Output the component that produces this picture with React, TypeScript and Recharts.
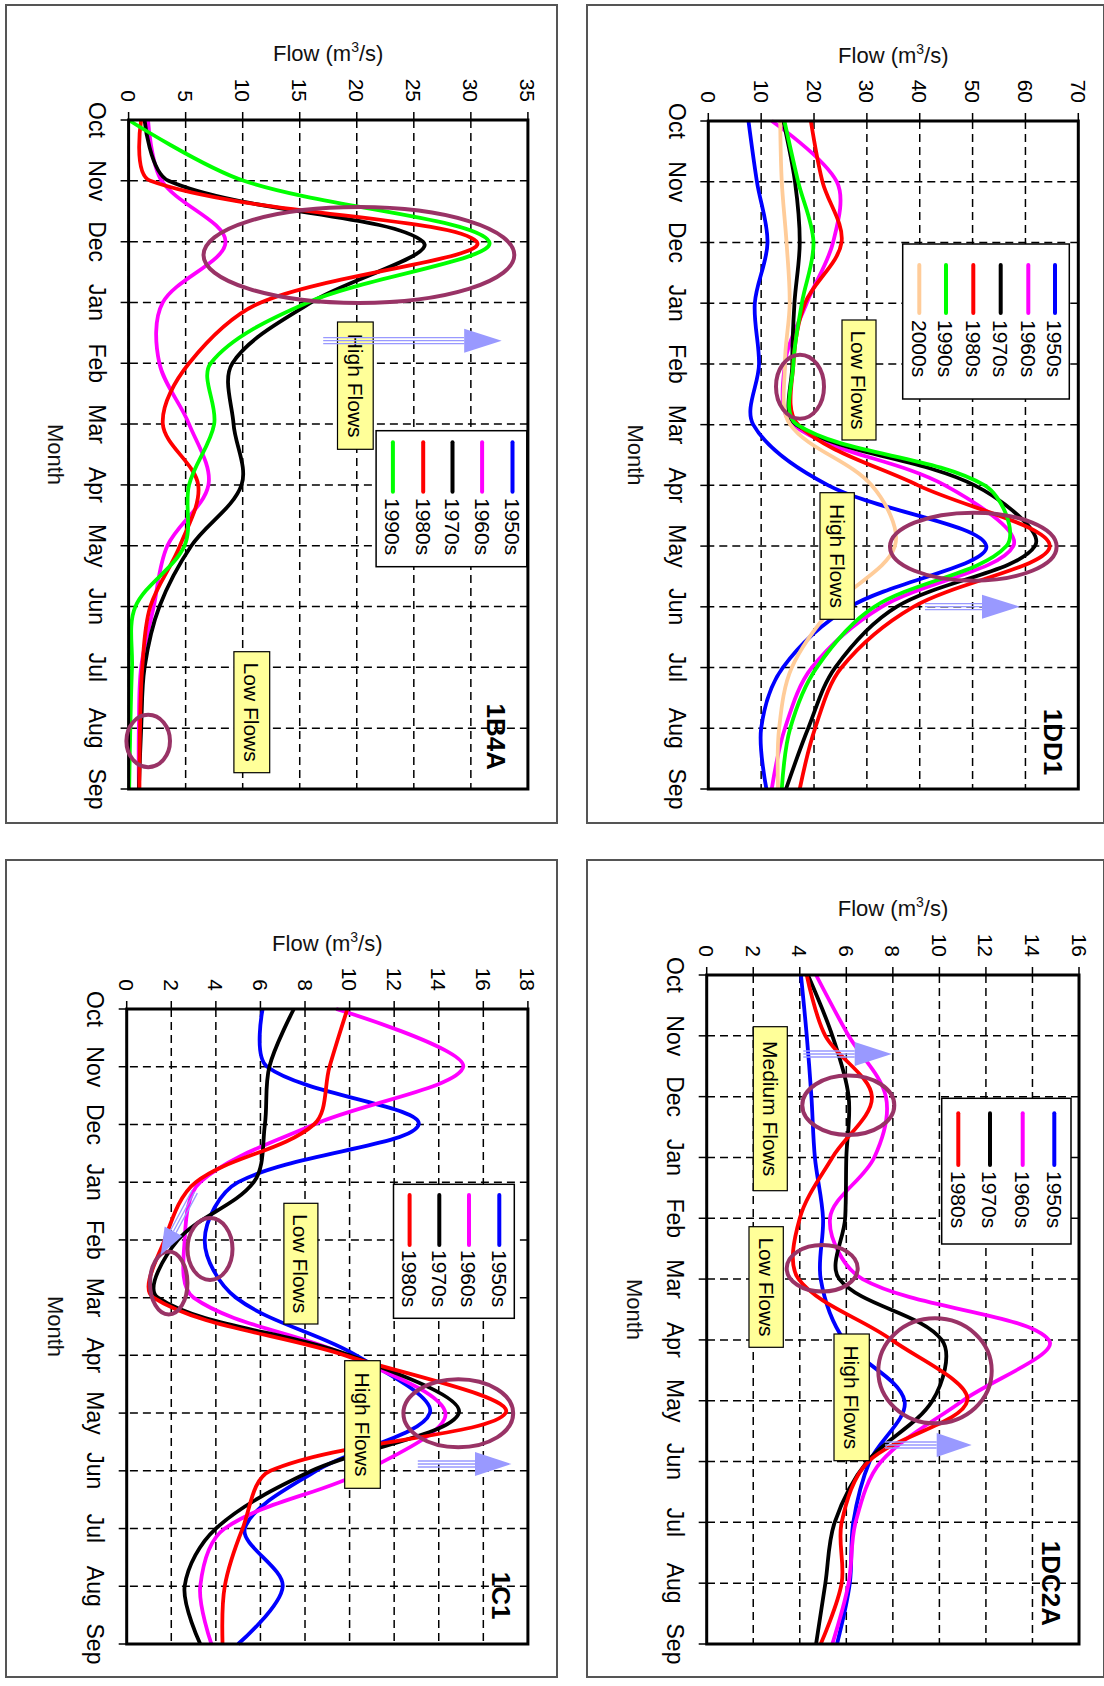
import React from "react";
import { LineChart, Line, XAxis, YAxis, CartesianGrid } from "recharts";

const MONTHS = ["Oct", "Nov", "Dec", "Jan", "Feb", "Mar", "Apr", "May", "Jun", "Jul", "Aug", "Sep"];

// 1DD1
const DD1_1950S = [7.6, 9.2, 11.2, 8.8, 9.6, 8.5, 22.7, 52.6, 26.8, 14.1, 10.0, 11.0];
const DD1_1960S = [12.0, 24.3, 23.6, 18.6, 14.5, 16.0, 44.8, 57.7, 32.8, 19.6, 14.5, 12.0];
const DD1_1970S = [14.2, 16.4, 17.3, 16.3, 15.9, 16.6, 50.4, 61.8, 35.6, 24.0, 18.9, 14.7];
const DD1_1980S = [19.4, 21.6, 25.2, 18.3, 16.1, 17.0, 39.7, 64.6, 38.8, 25.2, 20.2, 17.3];
const DD1_1990S = [14.4, 17.0, 19.9, 17.7, 16.1, 16.8, 52.3, 56.4, 31.4, 20.5, 15.5, 13.9];
const DD1_2000S = [13.6, 13.9, 14.8, 15.4, 14.5, 15.5, 30.9, 35.3, 23.6, 15.8, 13.4, 13.2];

// 1DC2A
const DC2A_1950S = [4.05, 4.3, 4.5, 4.65, 5.0, 4.9, 5.9, 8.5, 7.0, 6.3, 6.15, 5.6];
const DC2A_1960S = [4.7, 6.1, 7.7, 7.2, 5.3, 6.7, 14.7, 11.0, 7.5, 6.4, 6.1, 5.4];
const DC2A_1970S = [4.35, 5.4, 6.1, 6.0, 5.95, 5.7, 10.1, 9.7, 6.9, 5.5, 5.1, 4.7];
const DC2A_1980S = [4.3, 5.1, 7.1, 5.4, 4.0, 3.95, 7.95, 11.2, 6.95, 5.8, 5.8, 4.9];

// 1B4A (no 1950s record)
const B4A_1960S = [1.7, 2.9, 8.5, 3.0, 2.7, 5.3, 7.0, 3.4, 2.2, 1.1, 0.9, 0.9];
const B4A_1970S = [1.4, 3.5, 25.8, 16.0, 9.1, 9.2, 9.9, 5.5, 2.7, 1.4, 1.1, 0.9];
const B4A_1980S = [1.1, 1.9, 30.5, 11.6, 5.3, 3.0, 6.1, 4.5, 1.9, 1.2, 1.0, 0.95];
const B4A_1990S = [0.0, 10.1, 31.6, 15.7, 7.2, 7.5, 5.3, 4.9, 0.6, 0.3, 0.15, 0.05];

// 1C1
const C1_1950S = [6.1, 6.3, 13.1, 5.0, 3.5, 4.9, 10.3, 13.6, 8.5, 5.3, 7.0, 5.0];
const C1_1960S = [9.4, 15.1, 8.4, 3.3, 2.6, 3.0, 9.9, 14.3, 10.7, 4.4, 3.3, 3.8];
const C1_1970S = [7.5, 6.4, 6.2, 5.7, 2.3, 1.4, 10.0, 14.9, 8.3, 4.0, 2.6, 3.3];
const C1_1980S = [9.9, 9.1, 8.4, 3.1, 1.7, 1.2, 9.8, 17.0, 6.45, 5.2, 4.4, 4.3];

const FLOW_TICKS_70 = [0, 10, 20, 30, 40, 50, 60, 70];
const FLOW_TICKS_16 = [0, 2, 4, 6, 8, 10, 12, 14, 16];
const FLOW_TICKS_35 = [0, 5, 10, 15, 20, 25, 30, 35];
const FLOW_TICKS_18 = [0, 2, 4, 6, 8, 10, 12, 14, 16, 18];

const COLORS: Record<string, string> = {
  "1950s": "#0000FF",
  "1960s": "#FF00FF",
  "1970s": "#000000",
  "1980s": "#FF0000",
  "1990s": "#00FF00",
  "2000s": "#FFCC99",
};

const FONT = '"Liberation Sans", Arial, Helvetica, sans-serif';
const PURPLE = "#993366";
const ARROW = "#9999FF";
const Y_W = 60;
const X_H = 60;

// Excel style smoothed line: tangent through neighbours, handles scaled by segment length
const excelCurve = (context: any) => {
  let pts: number[][] = [];
  return {
    areaStart() {},
    areaEnd() {},
    lineStart() {
      pts = [];
    },
    point(x: number, y: number) {
      pts.push([+x, +y]);
    },
    lineEnd() {
      const n = pts.length;
      if (!n) return;
      context.moveTo(pts[0][0], pts[0][1]);
      const cIn: number[][] = [];
      const cOut: number[][] = [];
      for (let i = 0; i < n; i++) {
        const p = pts[i];
        const prev = pts[i - 1];
        const next = pts[i + 1];
        if (!prev || !next) {
          cIn[i] = p;
          cOut[i] = p;
          continue;
        }
        const dx = next[0] - prev[0];
        const dy = next[1] - prev[1];
        const l1 = Math.hypot(p[0] - prev[0], p[1] - prev[1]);
        const l2 = Math.hypot(next[0] - p[0], next[1] - p[1]);
        const s = l1 + l2 || 1;
        cIn[i] = [p[0] - (dx * l1) / s / 3, p[1] - (dy * l1) / s / 3];
        cOut[i] = [p[0] + (dx * l2) / s / 3, p[1] + (dy * l2) / s / 3];
      }
      for (let i = 0; i < n - 1; i++) {
        context.bezierCurveTo(cOut[i][0], cOut[i][1], cIn[i + 1][0], cIn[i + 1][1], pts[i + 1][0], pts[i + 1][1]);
      }
    },
  };
};

type Series = { label: string; values: number[] };
type Box = { x: number; y: number; w: number; h: number; text: string };
type Ell = { cx: number; cy: number; rx: number; ry: number };
type Arr = { x1: number; y1: number; x2: number; y2: number; head: number; hw: number };

interface PanelDef {
  title: string;
  titlePos: [number, number];
  frame: { left: number; top: number; width: number; height: number };
  plot: { x0: number; x1: number; y0: number; y1: number };
  yMax: number;
  yTicks: number[];
  series: Series[];
  legend: { x0: number; y0: number; x1: number; y1: number; rows: number[]; lx0: number; lx1: number; tx: number };
  flowTitle: [number, number];
  monthTitleY: number;
  boxes: Box[];
  ellipses: Ell[];
  arrows: Arr[];
}

const PANELS: PanelDef[] = [
  {
    title: "1DD1",
    titlePos: [742, 51],
    frame: { left: 5, top: 0, width: 818, height: 517 },
    plot: { x0: 121, x1: 789, y0: 25.7, y1: 395.7 },
    yMax: 70,
    yTicks: FLOW_TICKS_70,
    series: [
      { label: "1950s", values: DD1_1950S },
      { label: "1960s", values: DD1_1960S },
      { label: "1970s", values: DD1_1970S },
      { label: "1980s", values: DD1_1980S },
      { label: "1990s", values: DD1_1990S },
      { label: "2000s", values: DD1_2000S },
    ],
    legend: { x0: 244, y0: 34.7, x1: 399, y1: 201.3, rows: [49, 75.7, 103.3, 130.7, 158, 184.7], lx0: 265, lx1: 313, tx: 320 },
    flowTitle: [55, 210.7],
    monthTitleY: 468,
    boxes: [
      { x: 320, y: 228, w: 120, h: 34, text: "Low Flows" },
      { x: 492.7, y: 249.7, w: 126.6, h: 34.3, text: "High Flows" },
    ],
    ellipses: [
      { cx: 386.7, cy: 304, rx: 32, ry: 24 },
      { cx: 546.7, cy: 130.7, rx: 34, ry: 83.3 },
    ],
    arrows: [{ x1: 606.7, y1: 179, x2: 606.7, y2: 84, head: 38, hw: 12 }],
  },
  {
    title: "1DC2A",
    titlePos: [1583.3, 53.2],
    frame: { left: 860, top: 0, width: 817, height: 517 },
    plot: { x0: 975, x1: 1644, y0: 25, y1: 397.3 },
    yMax: 16,
    yTicks: FLOW_TICKS_16,
    series: [
      { label: "1950s", values: DC2A_1950S },
      { label: "1960s", values: DC2A_1960S },
      { label: "1970s", values: DC2A_1970S },
      { label: "1980s", values: DC2A_1980S },
    ],
    legend: { x0: 1098.3, y0: 33, x1: 1244, y1: 162.3, rows: [49.7, 81.3, 114, 145.7], lx0: 1113.3, lx1: 1165, tx: 1171 },
    flowTitle: [908.3, 211],
    monthTitleY: 469,
    boxes: [
      { x: 1026.7, y: 316.7, w: 164, h: 34, text: "Medium Flows" },
      { x: 1226.7, y: 320.7, w: 120.6, h: 34.3, text: "Low Flows" },
      { x: 1334, y: 234.7, w: 126.7, h: 35.3, text: "High Flows" },
    ],
    ellipses: [
      { cx: 1105.3, cy: 255.7, rx: 29.7, ry: 46 },
      { cx: 1268.3, cy: 281.8, rx: 23.3, ry: 35.5 },
      { cx: 1370.8, cy: 169, rx: 52.5, ry: 56.7 },
    ],
    arrows: [
      { x1: 1054, y1: 300.7, x2: 1054, y2: 212.3, head: 37, hw: 12 },
      { x1: 1445, y1: 219, x2: 1445, y2: 132.3, head: 35, hw: 12 },
    ],
  },
  {
    title: "1B4A",
    titlePos: [736.7, 607.9],
    frame: { left: 5, top: 547, width: 818, height: 551 },
    plot: { x0: 120, x1: 789, y0: 576.1, y1: 975.4 },
    yMax: 35,
    yTicks: FLOW_TICKS_35,
    series: [
      { label: "1950s", values: [] },
      { label: "1960s", values: B4A_1960S },
      { label: "1970s", values: B4A_1970S },
      { label: "1980s", values: B4A_1980S },
      { label: "1990s", values: B4A_1990S },
    ],
    legend: { x0: 430.7, y0: 577.2, x1: 566.7, y1: 727.9, rows: [591.5, 621.9, 651.5, 680.8, 711.1], lx0: 442.3, lx1: 491.7, tx: 498 },
    flowTitle: [53, 775.8],
    monthTitleY: 1048.6,
    boxes: [
      { x: 322, y: 730.8, w: 127.3, h: 35.7, text: "High Flows" },
      { x: 651.7, y: 834.3, w: 121, h: 35.8, text: "Low Flows" },
    ],
    ellipses: [
      { cx: 255, cy: 745.1, rx: 48, ry: 155.4 },
      { cx: 741, cy: 955.8, rx: 26.2, ry: 21.8 },
    ],
    arrows: [{ x1: 340.7, y1: 780.8, x2: 340.7, y2: 602.3, head: 37.5, hw: 12 }],
  },
  {
    title: "1C1",
    titlePos: [1595.7, 603.1],
    frame: { left: 860, top: 547, width: 817, height: 551 },
    plot: { x0: 1009, x1: 1644, y0: 576.1, y1: 977.3 },
    yMax: 18,
    yTicks: FLOW_TICKS_18,
    series: [
      { label: "1950s", values: C1_1950S },
      { label: "1960s", values: C1_1960S },
      { label: "1970s", values: C1_1970S },
      { label: "1980s", values: C1_1980S },
    ],
    legend: { x0: 1184.3, y0: 589.7, x1: 1318.3, y1: 710.5, rows: [604.7, 635, 664.7, 694.4], lx0: 1195, lx1: 1245, tx: 1250 },
    flowTitle: [943.3, 776.7],
    monthTitleY: 1048.6,
    boxes: [
      { x: 1203.3, y: 786.1, w: 120.7, h: 34, text: "Low Flows" },
      { x: 1360.7, y: 723.7, w: 127.6, h: 35.6, text: "High Flows" },
    ],
    ellipses: [
      { cx: 1249, cy: 894, rx: 31, ry: 22.5 },
      { cx: 1283, cy: 935.3, rx: 31.5, ry: 18.75 },
      { cx: 1413.3, cy: 645.7, rx: 34, ry: 54.9 },
    ],
    arrows: [
      { x1: 1464, y1: 686.2, x2: 1464, y2: 592.6, head: 36.4, hw: 12 },
      { x1: 1191.7, y1: 909.3, x2: 1255, y2: 943.3, head: 27, hw: 10 },
    ],
  },
];

function ArrowShape({ a }: { a: Arr }) {
  const dx = a.x2 - a.x1;
  const dy = a.y2 - a.y1;
  const len = Math.sqrt(dx * dx + dy * dy);
  const ux = dx / len;
  const uy = dy / len;
  const px = -uy;
  const py = ux;
  const bx = a.x2 - ux * a.head;
  const by = a.y2 - uy * a.head;
  return (
    <g>
      {[-3, 0, 3].map((o) => (
        <line key={o} x1={a.x1 + px * o} y1={a.y1 + py * o} x2={bx + px * o} y2={by + py * o} stroke={ARROW} strokeWidth={1.3} />
      ))}
      <polygon
        points={`${a.x2},${a.y2} ${bx + px * a.hw},${by + py * a.hw} ${bx - px * a.hw},${by - py * a.hw}`}
        fill={ARROW}
      />
    </g>
  );
}

function PanelChart({ p }: { p: PanelDef }) {
  const rows = MONTHS.map((m, i) => {
    const r: Record<string, string | number> = { month: m };
    p.series.forEach((s) => {
      if (s.values.length) r[s.label] = s.values[i];
    });
    return r;
  });
  const margin = {
    left: p.plot.x0 - p.frame.left - Y_W,
    right: p.frame.left + p.frame.width - p.plot.x1,
    top: p.plot.y0 - p.frame.top,
    bottom: p.frame.top + p.frame.height - p.plot.y1 - X_H,
  };
  return (
    <div style={{ position: "absolute", left: p.frame.left, top: p.frame.top }}>
      <LineChart width={p.frame.width} height={p.frame.height} data={rows} margin={margin}>
        <CartesianGrid stroke="#000" strokeDasharray="8 5" strokeWidth={1.5} />
        <XAxis
          dataKey="month"
          scale="point"
          interval={0}
          height={X_H}
          padding={{ left: 0, right: 0 }}
          axisLine={false}
          tickSize={8}
          tickMargin={15}
          tickLine={{ stroke: "#000", strokeWidth: 1.5 }}
          tick={{ fill: "#000", fontSize: 23 }}
        />
        <YAxis
          type="number"
          domain={[0, p.yMax]}
          ticks={p.yTicks}
          interval={0}
          width={Y_W}
          allowDataOverflow
          axisLine={false}
          tickSize={8}
          tickMargin={10}
          tickLine={{ stroke: "#000", strokeWidth: 1.5 }}
          tick={{ fill: "#000", fontSize: 21 }}
        />
        {p.series
          .filter((s) => s.values.length)
          .map((s) => (
            <Line
              key={s.label}
              dataKey={s.label}
              type={excelCurve as any}
              stroke={COLORS[s.label]}
              strokeWidth={3.8}
              dot={false}
              activeDot={false}
              isAnimationActive={false}
            />
          ))}
      </LineChart>
    </div>
  );
}

function Annotations({ p }: { p: PanelDef }) {
  const cx = (p.plot.x0 + p.plot.x1) / 2;
  return (
    <g>
      <rect x={p.frame.left} y={p.frame.top} width={p.frame.width} height={p.frame.height} fill="none" stroke="#555" strokeWidth={2} />
      <rect x={p.plot.x0} y={p.plot.y0} width={p.plot.x1 - p.plot.x0} height={p.plot.y1 - p.plot.y0} fill="none" stroke="#000" strokeWidth={3} />
      <text
        transform={`translate(${p.flowTitle[0]},${p.flowTitle[1]}) rotate(-90)`}
        textAnchor="middle"
        dy="0.35em"
        fontSize={22}
        fill="#111"
      >
        Flow (m
        <tspan fontSize={14} dy={-9}>
          3
        </tspan>
        <tspan dy={9}>/s)</tspan>
      </text>
      <text x={cx} y={p.monthTitleY} textAnchor="middle" dy="0.35em" fontSize={22} fill="#111">
        Month
      </text>
      <text x={p.titlePos[0]} y={p.titlePos[1]} textAnchor="middle" dy="0.35em" fontSize={26} fontWeight="bold" fill="#000">
        {p.title}
      </text>
      <rect
        x={p.legend.x0}
        y={p.legend.y0}
        width={p.legend.x1 - p.legend.x0}
        height={p.legend.y1 - p.legend.y0}
        fill="#fff"
        stroke="#000"
        strokeWidth={1.5}
      />
      {p.series.map((s, i) => (
        <g key={s.label}>
          <line
            x1={p.legend.lx0}
            x2={p.legend.lx1}
            y1={p.legend.rows[i]}
            y2={p.legend.rows[i]}
            stroke={COLORS[s.label]}
            strokeWidth={4}
            strokeLinecap="round"
          />
          <text x={p.legend.tx} y={p.legend.rows[i]} dy="0.36em" fontSize={21} fill="#000">
            {s.label}
          </text>
        </g>
      ))}
      {p.boxes.map((b) => (
        <g key={b.text + b.x}>
          <rect x={b.x} y={b.y} width={b.w} height={b.h} fill="#FFFF99" stroke="#000" strokeWidth={1.2} />
          <text x={b.x + b.w / 2} y={b.y + b.h / 2} textAnchor="middle" dy="0.36em" fontSize={21} fill="#000">
            {b.text}
          </text>
        </g>
      ))}
      {p.ellipses.map((e, i) => (
        <ellipse key={i} cx={e.cx} cy={e.cy} rx={e.rx} ry={e.ry} fill="none" stroke={PURPLE} strokeWidth={4} />
      ))}
      {p.arrows.map((a, i) => (
        <ArrowShape key={i} a={a} />
      ))}
    </g>
  );
}

export default function App() {
  return (
    <div
      style={{
        position: "absolute",
        left: 0,
        top: 0,
        width: 1104,
        height: 1686,
        overflow: "hidden",
        background: "#fff",
        fontFamily: FONT,
      }}
    >
      <div
        style={{
          position: "absolute",
          left: 0,
          top: 0,
          width: 1686,
          height: 1104,
          transformOrigin: "0 0",
          transform: "translateX(1104px) rotate(90deg)",
        }}
      >
        {PANELS.map((p) => (
          <PanelChart key={p.title} p={p} />
        ))}
        <svg width={1686} height={1104} style={{ position: "absolute", left: 0, top: 0, pointerEvents: "none" }} fontFamily={FONT}>
          {PANELS.map((p) => (
            <Annotations key={p.title} p={p} />
          ))}
        </svg>
      </div>
    </div>
  );
}
